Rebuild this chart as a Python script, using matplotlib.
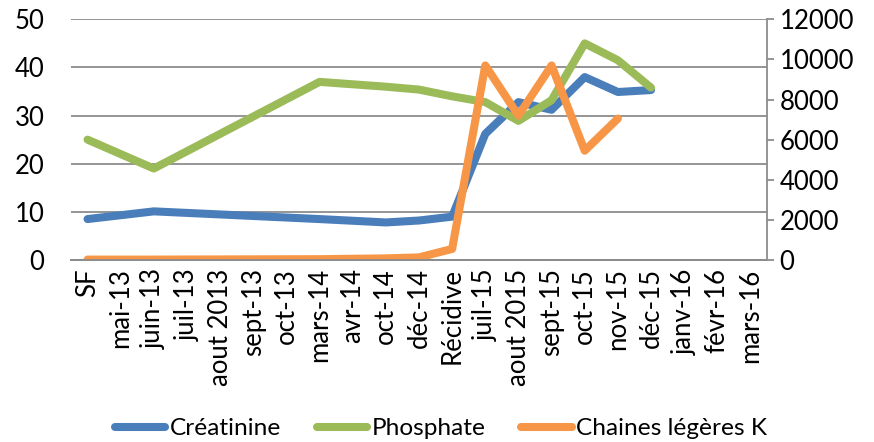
import numpy as np
import matplotlib.pyplot as plt

plt.rcParams["font.family"] = ["Lato", "DejaVu Sans"]

nan = np.nan
periodes = ["SF", "mai-13", "juin-13", "juil-13", "aout 2013", "sept-13", "oct-13",
            "mars-14", "avr-14", "oct-14", "déc-14", "Récidive", "juil-15", "aout 2015",
            "sept-15", "oct-15", "nov-15", "déc-15", "janv-16", "févr-16", "mars-16"]
creatinine = [8.5, nan, 10.1, nan, nan, nan, nan, 8.5, nan, 7.8, 8.2, 9.0,
              26.2, 32.8, 31.2, 38.0, 34.9, 35.3, nan, nan, nan]
phosphate = [25.0, nan, 19.0, nan, nan, nan, nan, 37.0, nan, 36.0, 35.4, 34.0,
             32.8, 28.9, 33.2, 45.0, 41.5, 35.8, nan, nan, nan]
chaines_k = [20, nan, 20, nan, nan, nan, nan, 40, nan, 80, 130, 550,
             9700, 7200, 9700, 5450, 7050, nan, nan, nan, nan]

fig = plt.figure(figsize=(8.74, 4.42), dpi=100)
ax = fig.add_axes([0.0812, 0.4118, 0.7964, 0.5445])
ax2 = ax.twinx()

x = np.arange(len(periodes))


def trace(axe, valeurs, couleur, nom):
    # relie les points mesurés en sautant les mois sans valeur
    v = np.array(valeurs, dtype=float)
    ok = ~np.isnan(v)
    return axe.plot(x[ok], v[ok], color=couleur, lw=5.8, label=nom,
                    solid_capstyle="round", solid_joinstyle="round")[0]


l1 = trace(ax, creatinine, "#4A7EBB", "Créatinine")
l2 = trace(ax, phosphate, "#9BBB59", "Phosphate")
l3 = trace(ax2, chaines_k, "#F79646", "Chaines légères K")

grille = "#8C8C8C"
ax.set_xlim(-0.5, len(periodes) - 0.5)
ax.set_ylim(0, 50)
ax.set_yticks(range(0, 51, 10))
ax2.set_ylim(0, 12000)
ax2.set_yticks(range(0, 12001, 2000))
ax.yaxis.grid(True, color=grille, lw=1.3)
ax.set_axisbelow(True)

ax.set_xticks(x)
ax.set_xticklabels(periodes, rotation=90, fontsize=18.5)
ax.tick_params(axis="x", length=0, pad=6)
ax.tick_params(axis="y", length=0, pad=19, labelsize=18.5)
ax2.tick_params(axis="y", length=5, width=1.3, color=grille, pad=4, labelsize=18.5)

for a in (ax, ax2):
    a.spines["top"].set_visible(False)
    a.spines["left"].set_visible(False)
    a.spines["right"].set_visible(False)
    a.spines["bottom"].set_color(grille)
    a.spines["bottom"].set_linewidth(1.3)
ax2.spines["right"].set_visible(True)
ax2.spines["right"].set_color(grille)
ax2.spines["right"].set_linewidth(1.3)

fig.legend(handles=[l1, l2, l3], loc="center", bbox_to_anchor=(0.505, 0.03),
           ncol=3, frameon=False, fontsize=17.6, handlelength=2.05,
           handletextpad=0.2, columnspacing=1.45)

fig.savefig("out.png", dpi=100)
